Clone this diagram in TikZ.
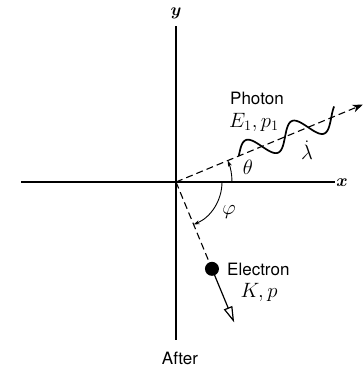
\documentclass[tikz,border=0pt]{standalone}
\usepackage{fontspec}
\usepackage{bm}
\setsansfont{TeX Gyre Heros}
\usetikzlibrary{arrows.meta,calc}
\begin{document}
\begin{tikzpicture}[x=1pt,y=1pt,
  axis/.style={line width=1.1pt},
  dashline/.style={line width=1.1pt, dash pattern=on 7pt off 4pt},
  lab/.style={font=\sffamily\fontsize{17}{20}\selectfont, inner sep=0pt},
  mlab/.style={font=\fontsize{20.74}{24}\selectfont, inner sep=0pt},
  alab/.style={font=\fontsize{17.28}{20}\selectfont, inner sep=0pt}]
\useasboundingbox (0,0) rectangle (364,367);
\coordinate (O) at (176,185);
\coordinate (xl) at (21,185);
\coordinate (xr) at (335,185);
\coordinate (yt) at (176,341);
\coordinate (yb) at (176,27);
% axes
\draw[axis] (xl) -- (xr);
\draw[axis] (yb) -- (yt);
\node[alab] (xlab) at (342,184) {$\bm{x}$};
\node[alab] (ylab) at (176,354) {$\bm{y}$};
% photon direction
\coordinate (ptip) at ($(O)+(22.5:202)$);
\draw[dashline, -{Stealth[length=10pt,width=8pt,inset=3pt]}] (O) -- (ptip);
% wave
\begin{scope}[shift={(O)}, rotate=22.5]
  \draw[line width=1.7pt] plot[domain=68:175, samples=120, smooth] (\x, {12*sin(7.2*(\x-68))});
\end{scope}
% electron direction
\coordinate (edot) at ($(O)+(-67.5:94)$);
\coordinate (etip) at ($(O)+(-67.5:152)$);
\draw[dashline] (O) -- (edot);
\draw[line width=1.2pt, -{Triangle[open,length=16pt,width=9pt]}] (edot) -- (etip);
\node[circle, fill=black, minimum size=14pt, inner sep=0pt] (e) at (edot) {};
% angle arcs
\draw[line width=0.9pt, -{Stealth[length=6pt,width=4pt]}] ($(O)+(0:56)$) arc[start angle=0, end angle=22.5, radius=56];
\draw[line width=0.9pt, -{Stealth[length=6pt,width=4pt]}] ($(O)+(0:46)$) arc[start angle=0, end angle=-67.5, radius=46];
\node[mlab] (th) at (248,200) {$\theta$};
\node[mlab] (ph) at (229,155) {$\varphi$};
\node[mlab] (lam) at (307,217) {$\dot{\lambda}$};
% labels
\node[lab, anchor=west] (photon) at (230,269) {Photon};
\node[mlab, anchor=west] (ep) at (229,245) {$E_1,p_1$};
\node[lab, anchor=west] (electron) at (227,98) {Electron};
\node[mlab] (kp) at (259,75) {$K,p$};
\node[lab] (after) at (180,9) {After};
\end{tikzpicture}
\end{document}
